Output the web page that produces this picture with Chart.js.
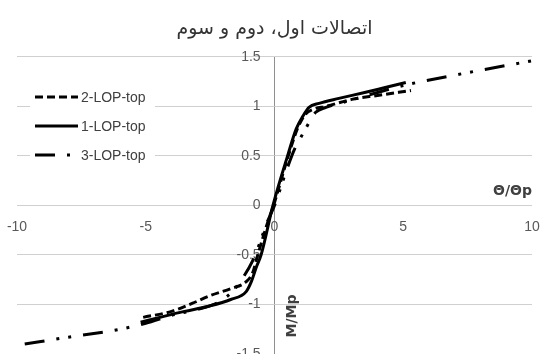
<!DOCTYPE html>
<html>
<head>
<meta charset="utf-8">
<script src="https://cdn.jsdelivr.net/npm/chart.js@4.4.1/dist/chart.umd.min.js"></script>
<style>
  html, body { margin: 0; padding: 0; background: #ffffff; }
  #wrap { width: 541px; height: 354px; }
</style>
</head>
<body>
<div id="wrap"><canvas id="chart" width="541" height="354"></canvas></div>
<script>
// Moment–rotation backbone curves of the three connections
const chartTitle = 'اتصالات اول، دوم و سوم';
const seriesNames = ['2-LOP-top', '1-LOP-top', '3-LOP-top'];

// rotation ratio θ/θp and moment ratio M/Mp
const lop2Theta = [-5.1, -4.0, -3.2, -2.5, -1.7, -1.1, -0.85, -0.65, -0.3, 0.0, 0.5, 0.9, 1.2, 1.5, 2.0, 3.0, 4.0, 5.3];
const lop2M     = [-1.13, -1.07, -0.99, -0.91, -0.84, -0.77, -0.68, -0.50, -0.20, 0.03, 0.47, 0.78, 0.92, 0.97, 1.00, 1.07, 1.11, 1.16];

const lop1Theta = [-5.2, -4.3, -3.5, -2.6, -1.7, -1.1, -0.9, -0.7, -0.52, -0.06, 0.52, 0.84, 1.1, 1.34, 1.73, 2.5, 3.5, 4.3, 5.1];
const lop1M     = [-1.18, -1.12, -1.07, -1.02, -0.95, -0.87, -0.77, -0.62, -0.50, 0.0, 0.51, 0.77, 0.90, 0.99, 1.03, 1.08, 1.14, 1.19, 1.24];

const lop3Theta = [-9.7, -8.0, -6.0, -5.0, -4.0, -3.0, -2.2, -1.6, -1.2, -0.85, -0.6, -0.3, 0.0, 0.5, 0.8, 1.05, 1.2, 1.42, 1.6, 2.0, 2.8, 4.0, 5.0, 7.3, 10.0];
const lop3M     = [-1.40, -1.33, -1.25, -1.19, -1.11, -1.05, -0.98, -0.86, -0.72, -0.56, -0.40, -0.18, 0.0, 0.38, 0.58, 0.70, 0.77, 0.87, 0.94, 0.99, 1.05, 1.14, 1.21, 1.33, 1.46];

const xTickValues = [-10, -5, 0, 5, 10];
const yTickValues = [-1.5, -1, -0.5, 0, 0.5, 1, 1.5];

const xAxisTitle = 'Θ/Θp';
const yAxisTitle = 'M/Mp';

// the value labels of the vertical axis sit just left of the θ = 0 line
const yLabelColumn = -0.54;

function toPoints(xs, ys) {
  return xs.map((x, i) => ({ x: x, y: ys[i] }));
}

const dashStyles = [[8, 4], [], [20, 12, 3, 9, 3, 12]];
const seriesData = [toPoints(lop2Theta, lop2M), toPoints(lop1Theta, lop1M), toPoints(lop3Theta, lop3M)];

const datasets = seriesNames.map((name, i) => ({
  label: name,
  data: seriesData[i],
  borderColor: '#000000',
  backgroundColor: '#000000',
  borderWidth: 3,
  borderDash: dashStyles[i],
  pointRadius: 0,
  showLine: true,
  fill: false,
  cubicInterpolationMode: 'monotone'
}));

const tickFont = { family: "'Liberation Sans', Arial, sans-serif", size: 14 };
const tickColor = '#595959';

// legend box laid over the plot area on the left
const insetLegend = {
  id: 'insetLegend',
  afterDraw(chart) {
    const ctx = chart.ctx;
    ctx.save();
    ctx.fillStyle = '#ffffff';
    ctx.fillRect(30, 84, 125, 86);
    const rowY = [97, 126, 155];
    chart.data.datasets.forEach((ds, i) => {
      const y = rowY[i];
      ctx.beginPath();
      ctx.setLineDash(ds.borderDash || []);
      ctx.lineWidth = ds.borderWidth;
      ctx.strokeStyle = ds.borderColor;
      ctx.moveTo(35, y);
      ctx.lineTo(78, y);
      ctx.stroke();
      ctx.setLineDash([]);
      ctx.fillStyle = '#404040';
      ctx.font = "14px 'Liberation Sans', Arial, sans-serif";
      ctx.textAlign = 'left';
      ctx.textBaseline = 'middle';
      ctx.fillText(ds.label, 81, y + 1);
    });
    ctx.restore();
  }
};

// axis titles placed next to the crossing axes
const axisTitles = {
  id: 'axisTitles',
  afterDraw(chart) {
    const ctx = chart.ctx;
    ctx.save();
    ctx.fillStyle = '#404040';
    ctx.font = "bold 14px 'DejaVu Sans', Verdana, sans-serif";
    ctx.textAlign = 'right';
    ctx.textBaseline = 'middle';
    ctx.fillText(xAxisTitle, 532, 191);
    ctx.translate(292, 316);
    ctx.rotate(-Math.PI / 2);
    ctx.textAlign = 'center';
    ctx.fillText(yAxisTitle, 0, 0);
    ctx.restore();
  }
};

new Chart(document.getElementById('chart'), {
  type: 'scatter',
  data: { datasets: datasets },
  plugins: [insetLegend, axisTitles],
  options: {
    responsive: false,
    animation: false,
    devicePixelRatio: 1,
    layout: { padding: { left: 17, right: 9, top: 0, bottom: 0 } },
    plugins: {
      legend: { display: false },
      tooltip: { enabled: false },
      title: {
        display: true,
        text: chartTitle,
        color: '#333333',
        font: { family: "'DejaVu Sans', 'Noto Sans', sans-serif", size: 19, weight: 'normal' },
        padding: { top: 18, bottom: 16 }
      }
    },
    scales: {
      x: {
        type: 'linear',
        min: -10,
        max: 10,
        position: { y: 0 },
        afterFit(s) { s.height = 0; s.paddingLeft = 0; s.paddingRight = 0; },
        afterBuildTicks(s) { s.ticks = xTickValues.map(v => ({ value: v })); },
        // only the θ = 0 line is drawn as the vertical axis
        grid: {
          drawTicks: false,
          lineWidth: 1,
          color: c => (c.tick && c.tick.value === 0 ? '#8f8f8f' : 'rgba(0,0,0,0)')
        },
        border: { display: false },
        ticks: { padding: 13, font: tickFont, color: tickColor, maxRotation: 0 }
      },
      y: {
        type: 'linear',
        min: -1.5,
        max: 1.5,
        position: { x: yLabelColumn },
        afterFit(s) { s.width = 0; s.paddingTop = 0; s.paddingBottom = 0; },
        afterBuildTicks(s) { s.ticks = yTickValues.map(v => ({ value: v })); },
        grid: { color: '#d0d0d0', lineWidth: 1, drawTicks: false },
        border: { display: false },
        ticks: { font: tickFont, color: tickColor, callback: v => String(v) }
      }
    }
  }
});
</script>
</body>
</html>
